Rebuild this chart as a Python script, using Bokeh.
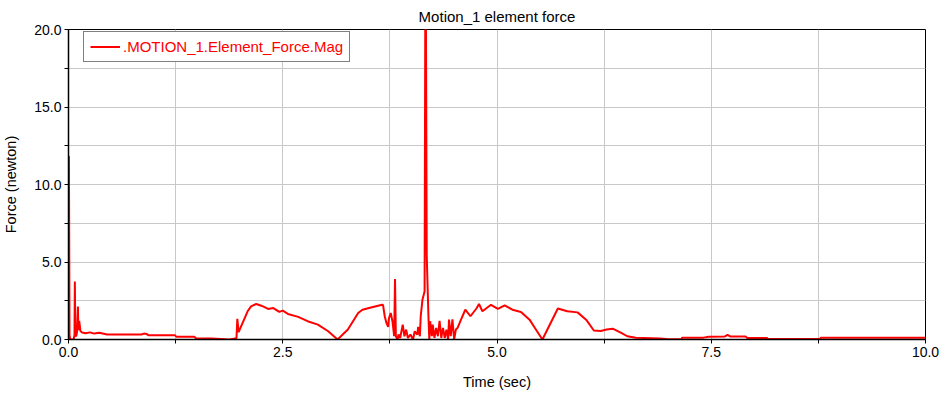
from bokeh.plotting import figure
from bokeh.models import FixedTicker, PrintfTickFormatter, Range1d, Legend, LegendItem
from bokeh.embed import file_html
from bokeh.resources import INLINE

# Time (sec) and force magnitude (newton)
time = [0.0, 0.005, 0.012, 0.02, 0.06, 0.07, 0.074, 0.08, 0.09, 0.10, 0.11, 0.115, 0.125, 0.14,
        0.16, 0.2, 0.25, 0.3, 0.36, 0.45, 0.6, 0.85, 0.88, 0.91, 0.93, 1.24, 1.26, 1.47, 1.49, 1.67,
        1.88, 1.96, 1.97, 1.985, 2.09, 2.13, 2.19, 2.25, 2.33, 2.39, 2.46, 2.50, 2.56, 2.68, 2.79,
        2.91, 3.03, 3.14, 3.26, 3.38, 3.43, 3.53, 3.66,
        3.67, 3.69, 3.71, 3.73, 3.74, 3.76, 3.78, 3.80, 3.81, 3.82, 3.84, 3.85, 3.87, 3.90, 3.92,
        3.94, 3.96, 3.99, 4.02, 4.04, 4.07, 4.08, 4.10, 4.11, 4.13, 4.155, 4.165, 4.168, 4.18, 4.20,
        4.21, 4.22, 4.24, 4.25, 4.27, 4.29, 4.31, 4.33, 4.35, 4.37, 4.39, 4.41, 4.43, 4.44, 4.46,
        4.48, 4.50, 4.52, 4.54, 4.58, 4.63, 4.69, 4.76, 4.79, 4.83, 4.93, 5.01, 5.09, 5.18, 5.28,
        5.38, 5.45, 5.53, 5.62, 5.71, 5.82, 5.94, 6.04, 6.13, 6.21, 6.28, 6.35, 6.45, 6.52, 6.62,
        6.9, 7.0, 7.15, 7.16, 7.41, 7.47, 7.66, 7.69, 7.72, 7.90, 7.92, 8.15, 8.16, 8.77, 8.78, 10.0]
force = [11.8, 11.8, 0.3, 0.0, 0.0, 0.3, 3.74, 0.3, 0.2, 0.5, 2.13, 0.6, 1.2, 0.53,
         0.45, 0.40, 0.46, 0.38, 0.43, 0.32, 0.33, 0.32, 0.38, 0.36, 0.28, 0.28, 0.17, 0.17, 0.06, 0.06,
         0.0, 0.08, 1.33, 0.47, 1.82, 2.14, 2.29, 2.18, 1.97, 2.03, 1.78, 1.86, 1.65, 1.46, 1.18,
         0.96, 0.53, 0.0, 0.64, 1.71, 1.92, 2.07, 2.24,
         2.24, 1.5, 1.07, 0.81, 1.39, 1.71, 1.18, 0.21, 3.9, 0.21, 0.0, 0.32, 0.1, 0.96, 0.21,
         0.64, 0.1, 0.32, 0.0, 0.53, 0.32, 0.81, 0.21, 1.5, 2.56, 3.1, 25.0, 25.0, 5.45, 1.5,
         0.0, 1.18, 0.21, 0.96, 0.1, 0.75, 0.21, 1.2, 0.1, 0.75, 0.1, 0.64, 0.0, 1.28, 0.21,
         1.3, 0.0, 0.64, 0.75, 1.28, 1.92, 1.5, 2.0, 2.29, 1.82, 2.24, 1.97, 2.2, 1.92, 1.78,
         1.28, 0.68, 0.0, 1.0, 2.0, 1.82, 1.75, 1.28, 0.58, 0.55, 0.65, 0.7, 0.43, 0.21, 0.11,
         0.06, 0.02, 0.02, 0.12, 0.12, 0.18, 0.2, 0.3, 0.2, 0.2, 0.1, 0.1, 0.03, 0.03, 0.12, 0.12]

x_major = [0.0, 2.5, 5.0, 7.5, 10.0]
x_minor = [1.25, 3.75, 6.25, 8.75]
y_major = [0.0, 5.0, 10.0, 15.0, 20.0]
y_minor = [2.5, 7.5, 12.5, 17.5]

title_text = "Motion_1 element force"
series_name = ".MOTION_1.Element_Force.Mag"
FONT = "Liberation Sans"

p = figure(width=944, height=392, output_backend="svg", toolbar_location=None,
           x_range=Range1d(0, 10), y_range=Range1d(0, 20),
           min_border_left=67, min_border_right=19, min_border_top=28, min_border_bottom=52,
           title=title_text)
p.title.align = "center"
p.title.text_font = FONT
p.title.text_font_size = "15px"
p.title.text_font_style = "normal"
p.title.text_color = "black"
p.title.standoff = 10

p.outline_line_color = "black"
p.outline_line_width = 1

for ax, maj, mnr, lab in ((p.xaxis[0], x_major, x_minor, "Time (sec)"),
                          (p.yaxis[0], y_major, y_minor, "Force (newton)")):
    ax.ticker = FixedTicker(ticks=maj, minor_ticks=mnr)
    ax.formatter = PrintfTickFormatter(format="%.1f")
    ax.axis_label = lab
    ax.axis_label_text_font = FONT
    ax.axis_label_text_font_size = "14.5px"
    ax.axis_label_text_font_style = "normal"
    ax.axis_label_text_color = "black"
    ax.major_label_text_font = FONT
    ax.major_label_text_font_size = "14px"
    ax.major_label_text_color = "black"
    ax.axis_line_color = "black"
    ax.axis_line_width = 1.5
    ax.major_tick_line_color = "black"
    ax.minor_tick_line_color = "black"
    ax.major_tick_out = 4
    ax.major_tick_in = 0
    ax.minor_tick_out = 4
    ax.minor_tick_in = 0
    ax.major_label_standoff = 3

p.xaxis.axis_label_standoff = 14
p.yaxis.axis_label_standoff = 12

for g in (p.xgrid[0], p.ygrid[0]):
    g.grid_line_color = "#c8c8c8"
    g.grid_line_width = 1
    g.minor_grid_line_color = "#c8c8c8"
    g.minor_grid_line_width = 1

r = p.line(time, force, line_color="#ff0000", line_width=2)

legend = Legend(items=[LegendItem(label=series_name, renderers=[r])],
                location=(15, 277))
legend.label_text_font = FONT
legend.label_text_font_size = "15px"
legend.label_text_color = "#ff0000"
legend.border_line_color = "black"
legend.border_line_width = 1.5
legend.padding = 6
legend.margin = 0
legend.glyph_width = 30
legend.glyph_height = 13
legend.label_height = 13
legend.label_standoff = 3
legend.background_fill_alpha = 1
p.add_layout(legend, "center")

open("out.html", "w").write(file_html(p, INLINE))
